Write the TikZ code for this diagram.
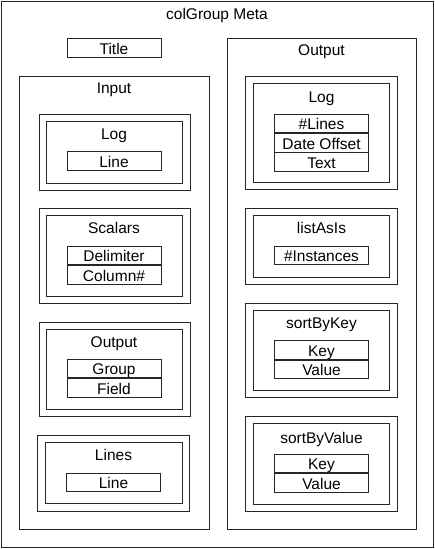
\documentclass[tikz,border=0pt]{standalone}
\usepackage{fontspec}
\setmainfont{Liberation Sans}
\usetikzlibrary{positioning}

\begin{document}
\begin{tikzpicture}[x=1pt,y=-1pt,
	box/.style={draw=black!85,line width=0.7pt},
	lbl/.style={font=\fontsize{15.5}{18}\selectfont,inner sep=0pt,text height=12.8pt,text depth=0pt},
	field/.style={lbl,draw=black!85,line width=0.7pt,minimum width=94pt,minimum height=18.5pt}]
		\useasboundingbox (0,0) rectangle (435,549);
		% frame and heading
		\draw[box] (1,1) rectangle (433,547);
		\node[lbl] (meta) at (217,13) {colGroup Meta};
		\node[field] (title) at (114,48) {Title};
		
		% left column
		\draw[box] (19,76) rectangle (209,529);
		\node[lbl] (input) at (114,87.5) {Input};
		\foreach \ya/\yb in {114/190, 208/303, 322/416}
			\draw[box] (39,\ya) rectangle (190,\yb) (46,{\ya+7.5}) rectangle (182,{\yb-7});
		\draw[box] (37,435) rectangle (189,511) (45,442) rectangle (182,503);
		
		\node[lbl] (inLog) at (114,133) {Log};
		\node[field] (inLine) at (114,161) {Line};
		
		\node[lbl] (scalars) at (114,227.5) {Scalars};
		\node[field] (delim) at (114,255.5) {Delimiter};
		\node[field,below=0pt of delim] (colnum) {Column\#};
		
		\node[lbl] (inOut) at (114,341) {Output};
		\node[field] (group) at (114,368.5) {Group};
		\node[field,below=0pt of group] (fld) {Field};
		
		\node[lbl] (lines) at (113.5,454) {Lines};
		\node[field] (linesLine) at (113.5,482.5) {Line};
		
		% right column
		\draw[box] (227,38) rectangle (416,529);
		\node[lbl] (output) at (321.5,49.5) {Output};
		\foreach \ya/\yb in {76/189, 208/284, 303/397, 416/511}
			\draw[box] (245,\ya) rectangle (397,\yb) (253,{\ya+7.5}) rectangle (389,{\yb-7});
		
		\node[lbl] (outLog) at (321.5,96.5) {Log};
		\node[field] (nlines) at (321.5,123.5) {\#Lines};
		\node[field,below=0pt of nlines] (dateoff) {Date Offset};
		\node[field,below=0pt of dateoff] (text) {Text};
		
		\node[lbl] (listAsIs) at (321.5,227.5) {listAsIs};
		\node[field] (ninst) at (321.5,255.5) {\#Instances};
		
		\node[lbl] (byKey) at (321.5,322.5) {sortByKey};
		\node[field] (kKey) at (321.5,350) {Key};
		\node[field,below=0pt of kKey] (kVal) {Value};
		
		\node[lbl] (byValue) at (321.5,437) {sortByValue};
		\node[field] (vKey) at (321.5,463.5) {Key};
		\node[field,below=0pt of vKey] (vVal) {Value};
	
	\end{tikzpicture}
\end{document}
